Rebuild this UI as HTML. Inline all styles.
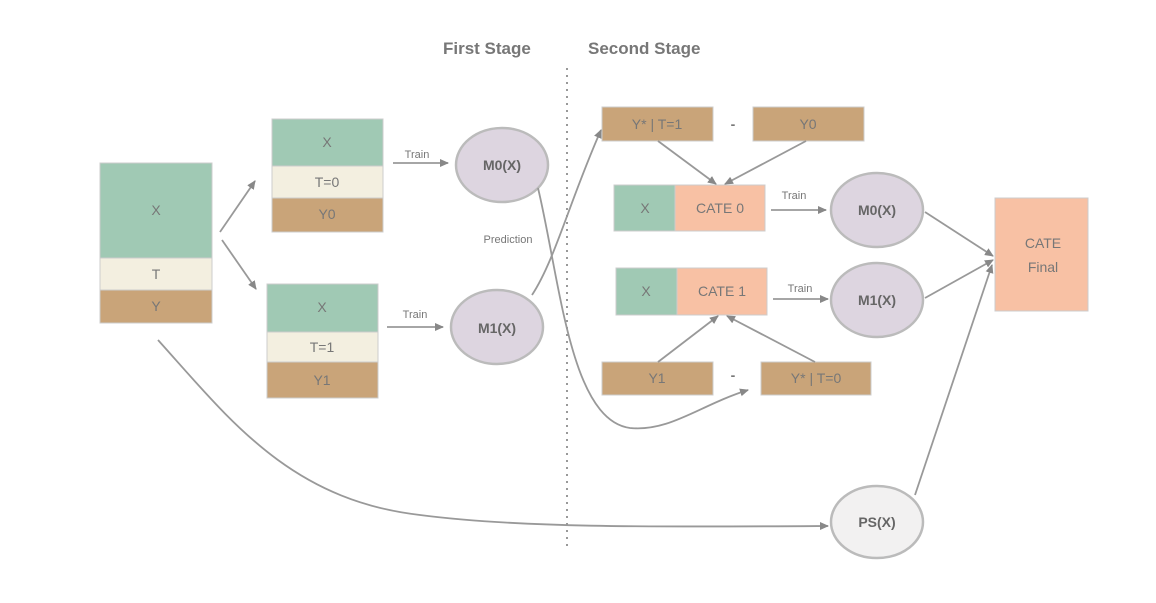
<!DOCTYPE html>
<html><head><style>
body{margin:0;background:#fff;}
svg text{font-family:"Liberation Sans",sans-serif;fill:#777;}
</style></head><body>
<svg width="1156" height="598" viewBox="0 0 1156 598" xmlns="http://www.w3.org/2000/svg">
<defs>
<marker id="a" markerWidth="10" markerHeight="10" refX="8" refY="5" orient="auto" markerUnits="userSpaceOnUse">
<path d="M0,1 L9,5 L0,9 z" fill="#888"/></marker>
</defs>
<rect width="1156" height="598" fill="#fff"/>
<text x="443" y="54" font-size="17" font-weight="bold">First Stage</text>
<text x="588" y="54" font-size="17" font-weight="bold">Second Stage</text>
<line x1="567" y1="68" x2="567" y2="550" stroke="#999" stroke-width="2" stroke-dasharray="2,5"/>

<g stroke="#ccc" stroke-width="1">
<rect x="100" y="163" width="112" height="95" fill="#a0c9b4"/>
<rect x="100" y="258" width="112" height="32" fill="#f3efe0"/>
<rect x="100" y="290" width="112" height="33" fill="#c9a479"/>
<rect x="272" y="119" width="111" height="47" fill="#a0c9b4"/>
<rect x="272" y="166" width="111" height="32" fill="#f3efe0"/>
<rect x="272" y="198" width="111" height="34" fill="#c9a479"/>
<rect x="267" y="284" width="111" height="48" fill="#a0c9b4"/>
<rect x="267" y="332" width="111" height="30" fill="#f3efe0"/>
<rect x="267" y="362" width="111" height="36" fill="#c9a479"/>
<rect x="602" y="107" width="111" height="34" fill="#c9a479"/>
<rect x="753" y="107" width="111" height="34" fill="#c9a479"/>
<rect x="614" y="185" width="61" height="46" fill="#a0c9b4"/>
<rect x="675" y="185" width="90" height="46" fill="#f8c1a4"/>
<rect x="616" y="268" width="61" height="47" fill="#a0c9b4"/>
<rect x="677" y="268" width="90" height="47" fill="#f8c1a4"/>
<rect x="602" y="362" width="111" height="33" fill="#c9a479"/>
<rect x="761" y="362" width="110" height="33" fill="#c9a479"/>
<rect x="995" y="198" width="93" height="113" fill="#f8c1a4"/>
</g>
<g stroke="#bbb" stroke-width="2.5" fill="#ddd5e0">
<ellipse cx="502" cy="165" rx="46" ry="37"/>
<ellipse cx="497" cy="327" rx="46" ry="37"/>
<ellipse cx="877" cy="210" rx="46" ry="37"/>
<ellipse cx="877" cy="300" rx="46" ry="37"/>
<ellipse cx="877" cy="522" rx="46" ry="36" fill="#f2f1f1"/>
</g>
<g font-size="14" text-anchor="middle">
<text x="156" y="215">X</text><text x="156" y="279">T</text><text x="156" y="311">Y</text>
<text x="327" y="147">X</text><text x="327" y="187">T=0</text><text x="327" y="219">Y0</text>
<text x="322" y="312">X</text><text x="322" y="352">T=1</text><text x="322" y="385">Y1</text>
<text x="657" y="129">Y* | T=1</text><text x="808" y="129">Y0</text>
<text x="733" y="129" font-weight="bold">-</text>
<text x="645" y="213">X</text><text x="720" y="213">CATE 0</text>
<text x="646" y="296">X</text><text x="722" y="296">CATE 1</text>
<text x="657" y="383">Y1</text><text x="816" y="383">Y* | T=0</text>
<text x="733" y="380" font-weight="bold">-</text>
<text x="1043" y="248">CATE</text><text x="1043" y="272">Final</text>
</g>
<g font-size="14" font-weight="bold" text-anchor="middle" style="fill:#666">
<text x="502" y="170" style="fill:#666">M0(X)</text>
<text x="497" y="333" style="fill:#666">M1(X)</text>
<text x="877" y="215" style="fill:#666">M0(X)</text>
<text x="877" y="305" style="fill:#666">M1(X)</text>
<text x="877" y="527" style="fill:#666">PS(X)</text>
</g>
<g font-size="11" text-anchor="middle">
<text x="417" y="158">Train</text><text x="415" y="318">Train</text>
<text x="508" y="243">Prediction</text>
<text x="794" y="199">Train</text><text x="800" y="292">Train</text>
</g>
<g stroke="#999" stroke-width="1.8" fill="none" marker-end="url(#a)">
<line x1="220" y1="232" x2="255" y2="181"/>
<line x1="222" y1="240" x2="256" y2="289"/>
<line x1="393" y1="163" x2="448" y2="163"/>
<line x1="387" y1="327" x2="443" y2="327"/>
<line x1="771" y1="210" x2="826" y2="210"/>
<line x1="773" y1="299" x2="828" y2="299"/>
<line x1="658" y1="141" x2="716" y2="184"/>
<line x1="806" y1="141" x2="725" y2="184"/>
<line x1="658" y1="362" x2="718" y2="316"/>
<line x1="815" y1="362" x2="727" y2="316"/>
<line x1="925" y1="212" x2="993" y2="256"/>
<line x1="925" y1="298" x2="993" y2="260"/>
<line x1="915" y1="495" x2="992" y2="265"/>
<path d="M532,295 C555,260 570,200 601,130"/>
<path d="M538,188 C560,280 570,420 630,428 C670,432 700,405 748,390"/>
<path d="M158,340 C230,420 290,500 420,515 C520,528 650,527 828,526"/>
</g>
</svg>
</body></html>
